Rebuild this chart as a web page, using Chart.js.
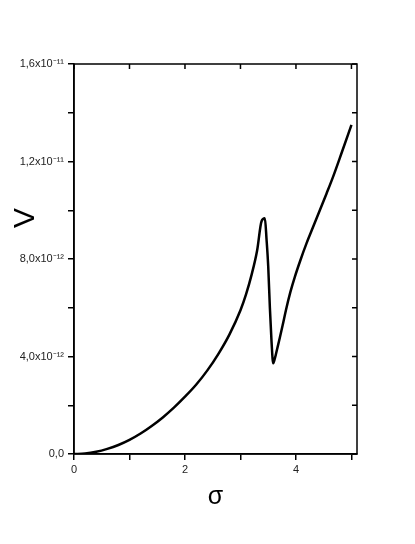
<!DOCTYPE html>
<html>
<head>
<meta charset="utf-8">
<script src="https://cdn.jsdelivr.net/npm/chart.js@4"></script>
<style>
  html, body { margin: 0; padding: 0; background: #fff; }
  #c { display: block; }
</style>
</head>
<body>
<canvas id="c" width="415" height="544"></canvas>
<script>
// ---- data ----
const sigmaValues = [0, 0.2, 0.4, 0.6, 0.8, 1.0, 1.2, 1.4, 1.6, 1.8, 2.0, 2.2, 2.4, 2.6, 2.8, 3.0, 3.1, 3.2, 3.3, 3.38, 3.44, 3.47, 3.5, 3.53, 3.56, 3.59, 3.62, 3.66, 3.71, 3.76, 3.82, 3.9, 3.98, 4.08, 4.19, 4.31, 4.43, 4.55, 4.67, 4.83, 5.0];
const vValues = [0, 0.02e-12, 0.09e-12, 0.21e-12, 0.37e-12, 0.58e-12, 0.84e-12, 1.15e-12, 1.5e-12, 1.9e-12, 2.35e-12, 2.84e-12, 3.42e-12, 4.1e-12, 4.9e-12, 5.9e-12, 6.55e-12, 7.35e-12, 8.35e-12, 9.55e-12, 9.67e-12, 8.8e-12, 7.7e-12, 6.0e-12, 4.6e-12, 3.72e-12, 3.92e-12, 4.3e-12, 4.78e-12, 5.28e-12, 5.91e-12, 6.65e-12, 7.27e-12, 7.95e-12, 8.64e-12, 9.32e-12, 10.0e-12, 10.68e-12, 11.38e-12, 12.4e-12, 13.5e-12];
const xTickLabels = ['0', '2', '4'];
const yTickLabels = ['0,0', '4,0x10\u207B\u00B9\u00B2', '8,0x10\u207B\u00B9\u00B2', '1,2x10\u207B\u00B9\u00B9', '1,6x10\u207B\u00B9\u00B9'];
const xTitle = '\u03C3';
const yTitle = 'V';

const points = sigmaValues.map((s, i) => ({ x: s, y: vValues[i] }));

const framePlugin = {
  id: 'frame',
  afterDraw(chart) {
    const { ctx, chartArea: a, scales: { x, y } } = chart;
    ctx.save();
    ctx.strokeStyle = '#000';
    ctx.lineWidth = 1.5;
    ctx.strokeRect(a.left, a.top, a.width, a.height);
    ctx.beginPath();
    x.ticks.forEach(t => {
      const px = x.getPixelForValue(t.value);
      ctx.moveTo(px, a.top);
      ctx.lineTo(px, a.top + 5);
    });
    y.ticks.forEach(t => {
      const py = y.getPixelForValue(t.value);
      ctx.moveTo(a.right, py);
      ctx.lineTo(a.right - 5, py);
    });
    ctx.stroke();
    // y axis title (rotated)
    ctx.translate(a.left - 48, a.top + 154);
    ctx.rotate(-Math.PI / 2);
    ctx.fillStyle = '#000';
    ctx.font = '30px "Liberation Sans", Arial, sans-serif';
    ctx.textAlign = 'center';
    ctx.textBaseline = 'middle';
    ctx.fillText(yTitle, 0, 0);
    ctx.restore();
  }
};

new Chart(document.getElementById('c'), {
  type: 'scatter',
  data: {
    datasets: [{
      data: points,
      showLine: true,
      borderColor: '#000',
      borderWidth: 2.5,
      pointRadius: 0,
      cubicInterpolationMode: 'monotone',
      fill: false
    }]
  },
  options: {
    responsive: false,
    animation: false,
    layout: { padding: { top: 64, right: 58, left: 0, bottom: 0 } },
    plugins: { legend: { display: false }, tooltip: { enabled: false } },
    scales: {
      x: {
        type: 'linear',
        min: 0,
        max: 5.1,
        afterFit(s) { s.height = 90; },
        border: { display: true, color: '#000', width: 1.5 },
        grid: { display: true, drawOnChartArea: false, drawTicks: true, tickLength: 6, color: '#000', lineWidth: 1.5 },
        ticks: {
          stepSize: 1,
          includeBounds: false,
          autoSkip: false,
          maxRotation: 0,
          padding: 3,
          color: '#222',
          font: { family: '"Liberation Sans", Arial, sans-serif', size: 11 },
          callback(v) {
            const k = Math.round(v / 2);
            return Math.abs(v - 2 * k) < 1e-9 && k < xTickLabels.length ? xTickLabels[k] : '';
          }
        },
        title: {
          display: true,
          text: xTitle,
          color: '#000',
          font: { family: '"Liberation Sans", Arial, sans-serif', size: 25 },
          padding: { top: 0, bottom: 32 }
        }
      },
      y: {
        type: 'linear',
        min: 0,
        max: 1.6e-11,
        afterFit(s) { s.width = 74; },
        border: { display: true, color: '#000', width: 1.5 },
        grid: { display: true, drawOnChartArea: false, drawTicks: true, tickLength: 6, color: '#000', lineWidth: 1.5 },
        ticks: {
          stepSize: 2e-12,
          includeBounds: false,
          autoSkip: false,
          padding: 4,
          color: '#222',
          font: { family: '"Liberation Sans", Arial, sans-serif', size: 11 },
          callback(v) {
            const k = Math.round(v / 4e-12);
            return Math.abs(v - k * 4e-12) < 1e-14 && k < yTickLabels.length ? yTickLabels[k] : '';
          }
        }
      }
    }
  },
  plugins: [framePlugin]
});
</script>
</body>
</html>
